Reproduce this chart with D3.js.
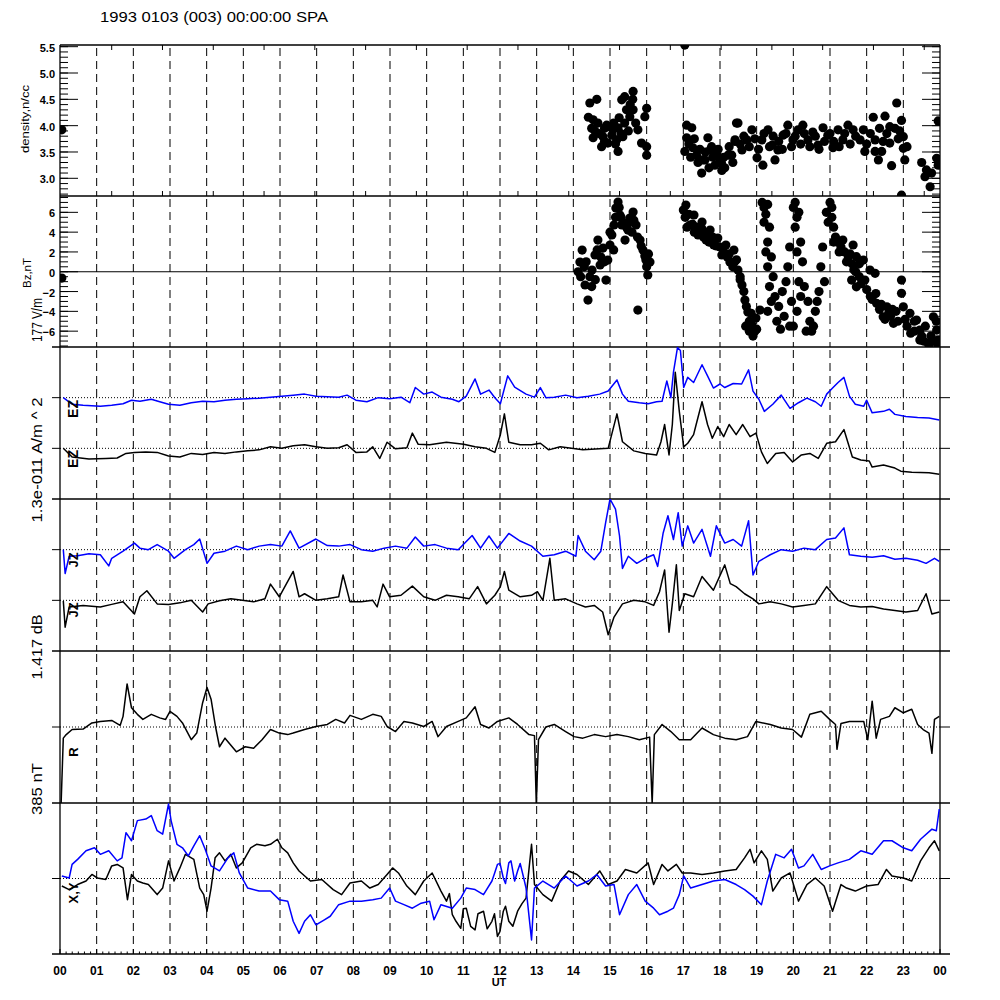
<!DOCTYPE html>
<html><head><meta charset="utf-8">
<script src="https://cdn.jsdelivr.net/npm/d3@7/dist/d3.min.js"></script>
<style>body{margin:0;background:#fff}svg{display:block}</style>
</head><body>
<svg id="c" width="1000" height="1000"></svg>
<script>
// ---------------- DATA ----------------
const titleText = "1993 0103 (003) 00:00:00 SPA";
const hourLabels = ["00","01","02","03","04","05","06","07","08","09","10","11","12","13","14","15","16","17","18","19","20","21","22","23","00"];
const densityTicks = [3.0,3.5,4.0,4.5,5.0,5.5];
const bzTicks = [-6,-4,-2,0,2,4,6];
const panelScaleLabels = ["177 V/m","1.3e-011 A/m ^ 2","1.417 dB","385 nT"];

// density [hour, n/cc]
const densityPts = [[0.05,3.92],
[14.45,4.43],[14.64,4.50],[14.41,4.16],[14.54,4.11],[14.67,4.05],[14.91,4.01],[15.0,3.98],[14.59,3.90],[14.54,3.77],[14.81,3.79],[14.77,3.60],[14.94,3.67],[15.08,3.92],[15.22,3.96],[15.32,4.49],[15.63,4.65],[15.62,4.50],[15.45,4.30],[15.63,4.30],[15.54,4.17],[15.76,3.92],[15.35,3.79],[15.22,3.51],[15.86,3.67],[16.0,3.60],[16.0,3.44],[16.0,4.33],[15.95,4.17],[15.18,3.73],[15.05,3.82],
[14.5,3.95],[14.7,3.85],[14.85,3.95],[15.1,4.05],[15.25,4.15],[15.4,4.05],[15.5,3.90],[15.7,4.05],[15.3,3.85],[14.85,3.70],[15.15,3.65],[15.55,4.40],[15.4,4.55],
[17.04,5.53],[17.09,4.01],[17.23,3.96],[17.09,3.77],[17.04,3.51],[17.26,3.58],[17.36,3.44],[17.53,3.35],[17.5,3.10],[17.67,3.77],[17.77,3.60],[17.91,3.48],[18.04,3.29],[18.13,3.20],[18.32,3.44],[18.45,4.05],[18.41,3.70],
[17.59,3.35],[17.73,3.54],[17.86,3.25],[18.0,3.35],[18.22,3.44],[18.41,3.73],[18.49,4.05],
[17.15,3.65],[17.3,3.75],[17.45,3.55],[17.6,3.50],[17.8,3.40],[17.95,3.55],[18.1,3.40],[18.25,3.60],[18.35,3.30],[17.2,3.40],[17.4,3.30],[17.7,3.20],[18.05,3.15],
[18.6,3.54],[18.73,3.73],[18.87,3.92],[19.01,3.39],[19.14,3.73],[19.31,3.92],[19.42,3.63],[19.58,3.54],[19.72,3.82],[19.85,4.01],[19.99,3.73],[20.13,3.92],[19.17,3.25],[19.5,3.35],
[18.55,3.65],[18.65,3.80],[18.8,3.60],[18.95,3.75],[19.05,3.55],[19.2,3.85],[19.35,3.60],[19.45,3.80],[19.6,3.70],[19.7,3.55],[19.8,3.85],[19.95,3.60],[20.05,3.80],[20.2,3.65],[20.3,3.85],[20.45,3.60],[20.6,3.80],[20.7,3.55],[20.85,3.70],[21.0,3.85],[21.1,3.70],[21.25,3.60],[21.4,3.85],[21.55,3.65],[21.7,3.80],
[20.26,4.01],[20.4,3.73],[20.53,3.88],[20.67,3.63],[20.81,3.96],[20.94,3.82],[21.08,3.58],[21.22,3.92],[21.35,3.73],[21.49,4.01],
[22.0,3.65],[22.1,3.85],[22.35,3.95],[22.45,3.70],[22.55,3.85],[22.9,3.90],[23.1,3.60],
[22.82,4.43],[22.18,4.16],[22.5,4.18],[22.63,3.98],[22.95,4.10],[22.77,3.95],[23.0,3.79],[22.86,3.75],[21.63,3.92],[21.91,3.92],[21.82,3.73],[22.23,3.73],[21.95,3.51],[22.23,3.51],[22.41,3.51],[22.63,3.67],[23.0,3.57],[23.04,3.35],[22.32,3.35],[22.68,3.24],[23.95,4.09],[23.5,3.30],[23.63,3.16],[23.77,3.10],[23.59,3.03],[23.73,2.84],[23.91,3.38],[23.95,3.25],[22.95,2.68]];

// Bz [hour, nT]
const bzPts = [[0.05,-0.64],
[14.13,0.0],[14.18,0.98],[14.24,2.19],[14.32,-1.34],[14.4,-2.86],[14.51,0.17],[14.59,1.69],[14.67,3.2],[14.73,0.68],[14.81,2.39],[14.89,-0.84],[14.94,1.18],[15.0,2.7],[15.05,3.71],[15.11,4.72],[15.16,6.43],[15.22,7.04],[15.27,5.73],[15.32,4.72],[15.41,3.2],[15.49,4.21],[15.54,5.42],[15.63,6.03],[15.71,4.72],[15.82,3.2],[15.9,2.19],[15.98,1.18],[16.03,-0.33],[16.09,0.98],[15.76,-3.87],[14.45,-0.5],[14.3,0.5],[14.6,-0.8],[14.75,1.5],[15.1,2.2],[15.35,5.0],[15.6,4.0],[16.05,1.8],
[14.2,-0.5],[14.35,1.0],[14.5,-1.5],[14.65,2.2],[14.85,1.0],[15.0,4.0],[15.15,5.5],[15.25,6.5],[15.3,5.5],[15.45,4.5],[15.55,5.0],[15.65,5.2],[15.75,3.5],[15.85,2.6],[15.95,1.6],[16.0,0.5],
[17.0,6.23],[17.07,6.74],[17.18,4.72],[17.29,5.73],[17.4,3.71],[17.51,5.02],[17.62,3.2],[17.73,4.21],[17.83,2.7],[17.94,3.4],[18.05,1.69],[18.16,2.7],[18.27,0.98],[18.38,2.19],[18.49,0.17],[18.6,-1.34],[18.68,-2.86],[18.76,-4.07],[18.87,-5.39],[18.98,-4.68],[19.09,-3.87],
[17.1,4.5],[17.3,4.0],[17.5,4.4],[17.7,3.0],[18.0,2.5],[18.2,1.5],[18.4,1.0],[18.55,-0.5],[18.7,-5.5],[18.8,-6.0],[18.9,-6.5],[19.0,-5.8],
[17.05,5.5],[17.15,5.8],[17.25,4.8],[17.35,4.5],[17.45,4.2],[17.55,3.5],[17.65,3.8],[17.8,3.5],[17.9,2.6],[18.1,2.0],[18.25,1.8],[18.35,0.5],[18.45,1.2],[18.55,-0.8],[18.65,-2.0],[18.72,-3.5],[18.8,-5.0],[18.85,-4.2],[18.95,-6.0],
[19.15,7.0],[19.2,6.5],[19.25,5.8],[19.3,6.8],[19.35,4.5],[19.3,3.0],[19.4,1.5],[19.45,-0.5],
[19.2,5.0],[19.25,2.0],[19.3,0.5],[19.35,-1.5],[19.4,-3.0],[19.3,-4.0],[19.65,-5.8],[19.9,-5.5],
[19.5,-2.5],[19.6,-3.5],[19.7,-2.0],[19.75,-4.5],[19.55,-5.0],[19.8,-1.0],[19.85,0.5],[19.9,2.5],[19.95,-3.0],[20.0,-5.5],
[20.0,6.5],[20.05,7.0],[20.1,5.5],[20.15,6.0],[20.2,3.0],[20.25,1.0],
[20.05,4.5],[20.1,2.0],[20.15,-1.0],[20.2,-2.5],[20.1,-4.0],[20.35,-6.0],[20.55,-5.5],[20.65,-3.0],[20.85,-1.0],
[20.3,-1.5],[20.4,-3.0],[20.45,-5.0],[20.5,-6.0],[20.6,-4.0],[20.7,-2.0],[20.75,0.5],[20.8,2.5],
[20.9,6.0],[20.95,5.0],[21.0,7.0],[21.05,6.5],[21.1,4.5],[21.15,3.5],[21.2,3.0],[21.3,2.5],[21.4,2.0],[21.5,1.5],[21.6,0.8],[21.7,0.0],[21.8,-0.5],
[21.05,5.5],[21.1,3.0],[21.25,2.0],[21.35,3.2],[21.45,1.0],[21.55,1.8],[21.65,0.2],[21.8,0.8],[21.85,-1.2],[22.0,-1.8],[22.15,-2.8],[22.25,-2.2],[22.4,-3.3],[22.5,-4.8],[22.65,-4.5],[22.7,-3.8],[22.85,-5.0],[23.05,-4.8],[23.2,-6.2],[23.3,-5.0],[23.5,-6.5],[23.6,-5.5],[23.7,-7.4],[23.85,-7.0],[23.95,-7.4],[23.9,-5.0],
[21.63,2.7],[21.72,1.52],[21.91,1.18],[22.09,0.17],[21.95,-0.84],[22.23,-0.16],[21.59,-0.84],[21.72,-1.52],[22.95,-0.84],[22.95,-2.18],[22.27,-3.19],[22.55,-3.54],[22.45,-4.55],[22.73,-5.21],[23.0,-3.54],[23.18,-4.2],[23.36,-4.88],[23.45,-5.89],[23.45,-6.9],[23.68,-7.23],[23.82,-4.55],[23.91,-5.89],[23.95,-6.9],
[22.1,-2.5],[22.35,-3.8],[22.6,-4.2],[22.8,-4.0],[23.1,-5.5],[23.3,-6.0],[23.55,-7.0],[23.75,-6.5]];

// Traces: [hour, deviation from own zero line, in units of 1/3 panel height]
const ezBlue = [[0.09,0],[0.33,-0.13],[0.63,-0.15],[1.10,-0.17],[1.41,-0.15],[1.72,-0.12],[1.95,-0.05],[2.18,-0.07],[2.49,-0.03],[2.72,-0.08],[2.96,-0.13],[3.27,-0.15],[3.58,-0.10],[3.89,-0.07],[4.20,-0.08],[4.50,-0.05],[4.81,-0.03],[5.12,-0.02],[5.43,-0.01],[5.74,0.01],[6.05,0.03],[6.36,0.05],[6.67,0.07],[6.98,0.03],[7.29,0.02],[7.60,0.01],[7.83,0.05],[8.07,-0.05],[8.37,-0.08],[8.68,0],[8.99,-0.02],[9.30,0.01],[9.54,-0.10],[9.69,0.20],[9.92,0.07],[10.15,0.11],[10.39,0.01],[10.70,-0.03],[10.88,-0.08],[11.08,0.03],[11.32,0.37],[11.47,0.07],[11.70,0.15],[11.86,0],[12.01,-0.12],[12.21,0.43],[12.40,0.21],[12.71,0.07],[12.94,0.01],[13.10,0.20],[13.25,0],[13.48,0.01],[13.79,0.05],[14.10,0],[14.41,0.03],[14.72,0.07],[14.95,0.13],[15.19,0.35],[15.34,0.07],[15.50,-0.07],[15.80,-0.10],[16.04,-0.12],[16.27,-0.08],[16.42,-0.07],[16.55,0.33],[16.66,0],[16.73,0.50],[16.84,0.99],[16.92,0.93],[17.01,0.20],[17.12,0.40],[17.28,0.30],[17.51,0.65],[17.66,0.43],[17.82,0.19],[18.00,0.27],[18.13,0.20],[18.36,0.28],[18.59,0.27],[18.78,0.55],[18.90,0.13],[19.06,-0.03],[19.21,-0.27],[19.44,-0.13],[19.67,0.05],[19.91,-0.21],[20.14,-0.10],[20.37,-0.01],[20.60,-0.08],[20.76,-0.17],[20.91,0.07],[21.07,0.19],[21.22,0.30],[21.38,0.40],[21.53,0.03],[21.69,-0.13],[21.92,-0.17],[22.00,-0.05],[22.15,-0.30],[22.46,-0.27],[22.62,-0.23],[22.77,-0.33],[23.07,-0.37],[23.39,-0.39],[23.70,-0.40],[23.98,-0.44]];

const ezBlack = [[0.09,0],[0.33,-0.17],[0.79,-0.21],[1.25,-0.20],[1.56,-0.19],[1.80,-0.10],[2.03,-0.08],[2.34,-0.07],[2.65,-0.08],[2.96,-0.15],[3.27,-0.17],[3.58,-0.10],[3.89,-0.12],[4.20,-0.08],[4.50,-0.10],[4.81,-0.07],[5.12,-0.05],[5.43,-0.03],[5.74,0.03],[6.05,0],[6.36,0.05],[6.67,0.07],[6.98,0.03],[7.29,0],[7.60,0.01],[7.83,0.07],[8.07,-0.08],[8.37,-0.07],[8.53,0.03],[8.72,-0.20],[8.92,0.12],[9.15,-0.01],[9.46,0.01],[9.61,0.30],[9.77,0.08],[10.08,0.07],[10.54,0.12],[11.01,0.08],[11.32,0.03],[11.63,0],[11.86,-0.08],[12.01,0.27],[12.12,0.68],[12.24,0.12],[12.55,0.07],[12.86,0.07],[13.10,0.10],[13.33,-0.03],[13.64,0.03],[13.95,0],[14.26,-0.03],[14.72,-0.01],[14.95,0],[15.19,0.68],[15.34,0.13],[15.65,-0.05],[15.96,-0.10],[16.27,-0.13],[16.39,0.13],[16.49,0.47],[16.61,-0.13],[16.70,0.47],[16.78,1.50],[16.89,0.73],[17.01,0.03],[17.12,0.10],[17.28,0.27],[17.35,0.47],[17.51,0.92],[17.66,0.47],[17.79,0.20],[17.94,0.43],[18.10,0.23],[18.25,0.47],[18.44,0.27],[18.62,0.47],[18.82,0.23],[18.98,0.30],[19.13,-0.07],[19.29,-0.30],[19.52,-0.10],[19.75,-0.08],[19.98,-0.27],[20.22,-0.13],[20.45,-0.10],[20.68,-0.20],[20.91,0.10],[21.15,0.13],[21.38,0.37],[21.61,-0.17],[21.84,-0.23],[22.07,-0.25],[22.15,-0.37],[22.46,-0.33],[22.77,-0.39],[22.93,-0.45],[23.23,-0.47],[23.70,-0.48],[23.98,-0.51]];

const jBlue = [[0.09,0],[0.14,-0.47],[0.25,-0.13],[0.48,-0.12],[0.79,-0.08],[1.10,-0.10],[1.33,-0.32],[1.41,-0.17],[1.72,-0.03],[2.03,0.13],[2.18,0.03],[2.41,0],[2.65,0.10],[2.96,-0.03],[3.11,-0.17],[3.42,0],[3.65,0.10],[3.81,0.21],[4.01,-0.27],[4.20,-0.07],[4.50,-0.03],[4.81,0.07],[5.12,0],[5.43,0.07],[5.74,0.10],[6.05,0.07],[6.28,0.37],[6.52,0.03],[6.98,0.21],[7.29,0.08],[7.60,0.07],[7.91,0.10],[8.22,0],[8.53,-0.03],[8.84,0.03],[9.15,0.07],[9.46,0.03],[9.69,0.25],[9.92,0.07],[10.23,0.10],[10.54,0.03],[10.86,0],[11.24,0.28],[11.47,0.03],[11.70,0.27],[11.93,0.03],[12.24,0.32],[12.55,0.17],[12.86,0.07],[13.17,-0.13],[13.48,-0.10],[13.79,-0.03],[14.07,-0.13],[14.13,0.28],[14.33,-0.03],[14.57,-0.20],[14.75,-0.03],[14.88,0.53],[15.00,1.00],[15.15,0.80],[15.26,0.27],[15.34,-0.37],[15.50,-0.13],[15.73,-0.27],[15.96,-0.17],[16.19,-0.10],[16.30,-0.33],[16.45,0.33],[16.58,0.67],[16.73,0.20],[16.86,0.73],[16.97,0.07],[17.12,0.47],[17.28,0.13],[17.51,0.40],[17.74,-0.13],[17.90,0.47],[18.13,0.13],[18.36,0.20],[18.59,0.07],[18.78,0.57],[18.90,-0.50],[19.06,-0.23],[19.37,-0.10],[19.67,0],[19.98,-0.03],[20.29,0.03],[20.60,0],[20.91,0.20],[21.15,0.23],[21.38,0.43],[21.53,-0.10],[21.84,-0.13],[22.15,-0.15],[22.46,-0.12],[22.77,-0.19],[23.07,-0.17],[23.39,-0.21],[23.62,-0.27],[23.85,-0.17],[23.98,-0.23]];

const jBlack = [[0.09,-0.01],[0.14,-0.53],[0.25,-0.13],[0.63,-0.10],[1.10,-0.13],[1.41,-0.08],[1.72,-0.03],[2.03,-0.27],[2.18,0.07],[2.37,0.19],[2.65,-0.07],[2.96,-0.08],[3.27,-0.05],[3.58,0],[3.89,-0.23],[4.04,-0.07],[4.35,-0.01],[4.66,0.03],[4.97,0],[5.28,-0.03],[5.59,0.03],[5.74,0.32],[5.98,0.07],[6.36,0.57],[6.52,0.07],[6.67,0.13],[6.98,0],[7.29,0.03],[7.60,0.07],[7.72,0.50],[7.91,-0.03],[8.22,-0.03],[8.53,0],[8.65,-0.13],[8.81,0.32],[8.99,0.07],[9.30,0.10],[9.61,0.28],[9.92,0.07],[10.23,0],[10.54,0.10],[10.86,0.07],[11.16,0.03],[11.39,0.27],[11.63,-0.07],[11.86,0.10],[12.01,0.27],[12.12,0.57],[12.24,0.20],[12.55,0.07],[12.86,0.10],[13.02,0.17],[13.17,0],[13.36,0.83],[13.48,0],[13.79,0.03],[14.10,-0.07],[14.33,-0.13],[14.57,-0.10],[14.80,-0.23],[14.95,-0.68],[15.11,-0.33],[15.34,-0.07],[15.65,0],[15.96,-0.03],[16.19,-0.10],[16.35,0.17],[16.49,0.60],[16.61,-0.63],[16.70,-0.07],[16.81,0.70],[16.89,-0.20],[17.04,0.13],[17.28,0.07],[17.51,0.47],[17.82,0.20],[18.13,0.70],[18.28,0.33],[18.44,0.27],[18.67,0.13],[18.90,0.03],[19.06,-0.07],[19.37,-0.03],[19.67,-0.07],[19.98,-0.13],[20.29,-0.10],[20.60,-0.07],[20.91,0.27],[21.22,0],[21.53,-0.10],[21.84,-0.13],[22.15,-0.12],[22.46,-0.17],[22.77,-0.20],[23.07,-0.23],[23.39,-0.20],[23.62,0.13],[23.78,-0.27],[23.98,-0.23]];

const rTrace = [[0.03,-1.52],[0.09,-0.22],[0.17,-0.15],[0.33,-0.05],[0.63,-0.04],[0.87,0.08],[1.10,0.11],[1.41,0.13],[1.64,0.03],[1.72,0.21],[1.83,0.85],[1.95,0.38],[2.11,0.25],[2.26,0.15],[2.49,0.25],[2.72,0.18],[2.88,0.15],[3.00,0.31],[3.19,0.21],[3.34,0.08],[3.58,-0.25],[3.73,-0.12],[3.89,0.48],[4.01,0.78],[4.12,0.55],[4.24,0.01],[4.35,-0.39],[4.50,-0.22],[4.81,-0.49],[5.05,-0.39],[5.28,-0.42],[5.51,-0.25],[5.74,-0.05],[5.98,-0.12],[6.21,-0.15],[6.36,-0.12],[6.67,-0.05],[6.98,0.01],[7.29,0.05],[7.52,0.15],[7.76,0.08],[7.91,0.23],[8.22,0.15],[8.53,0.25],[8.76,0.21],[8.92,0.01],[9.15,-0.09],[9.38,0.11],[9.61,0.08],[9.92,0.01],[10.15,0.11],[10.31,-0.19],[10.54,0.01],[10.86,0.11],[11.08,0.18],[11.32,0.40],[11.47,0.05],[11.70,-0.02],[11.93,0.11],[12.24,0.18],[12.48,0.05],[12.79,-0.15],[12.94,-0.17],[12.99,-1.53],[13.05,-0.25],[13.25,0],[13.48,0.05],[13.79,-0.09],[14.02,-0.19],[14.26,-0.22],[14.57,-0.15],[14.88,-0.19],[15.19,-0.15],[15.50,-0.19],[15.80,-0.25],[16.08,-0.20],[16.15,-1.51],[16.21,-0.15],[16.42,0.05],[16.66,-0.09],[16.89,-0.25],[17.20,-0.25],[17.51,-0.02],[17.82,-0.15],[18.13,-0.22],[18.44,-0.25],[18.75,-0.19],[18.98,0.11],[19.37,0.05],[19.67,-0.02],[19.98,-0.05],[20.22,-0.20],[20.45,0.25],[20.76,0.31],[20.99,0.15],[21.15,0.05],[21.19,-0.44],[21.30,0.07],[21.53,0.11],[21.92,0.11],[22.03,-0.25],[22.15,0.51],[22.26,-0.22],[22.38,0.15],[22.62,0.21],[22.77,0.38],[23.00,0.28],[23.23,0.35],[23.39,0.05],[23.54,-0.05],[23.70,-0.12],[23.78,-0.52],[23.85,0.15],[23.98,0.21]];

const xBlack = [[0.05,-0.15],[0.25,-0.22],[0.48,-0.12],[0.71,-0.05],[0.87,0.08],[1.02,0.01],[1.25,-0.02],[1.41,0.25],[1.56,0.28],[1.72,0.21],[1.84,-0.42],[1.95,0.08],[2.11,-0.05],[2.26,-0.09],[2.41,-0.12],[2.65,-0.32],[2.80,-0.19],[2.96,0.35],[3.11,-0.05],[3.27,0.21],[3.42,0.48],[3.65,0.38],[3.81,-0.19],[3.92,-0.32],[4.01,-0.65],[4.12,-0.19],[4.23,0.41],[4.35,0.51],[4.50,0.35],[4.66,0.48],[4.81,0.21],[4.97,0.31],[5.20,0.61],[5.36,0.68],[5.59,0.65],[5.74,0.68],[5.93,0.78],[6.05,0.61],[6.21,0.51],[6.36,0.31],[6.52,0.15],[6.83,-0.05],[7.14,-0.02],[7.45,-0.22],[7.68,-0.32],[7.91,-0.09],[8.22,-0.05],[8.45,-0.19],[8.68,-0.12],[8.92,0.08],[9.07,0.21],[9.23,0.11],[9.46,-0.15],[9.69,-0.32],[9.92,-0.05],[10.15,0.11],[10.39,-0.25],[10.54,-0.45],[10.62,-0.30],[10.70,-0.72],[10.80,-0.85],[10.93,-0.99],[11.00,-0.60],[11.08,-0.59],[11.20,-0.95],[11.32,-1.02],[11.40,-0.70],[11.55,-0.65],[11.65,-1.00],[11.78,-0.85],[11.85,-0.70],[11.93,-1.15],[12.00,-1.05],[12.09,-0.65],[12.15,-0.55],[12.24,-0.85],[12.35,-0.95],[12.48,-0.65],[12.60,-0.50],[12.71,-0.39],[12.86,0.68],[12.94,-0.12],[13.17,-0.32],[13.41,-0.45],[13.64,-0.05],[13.87,0.15],[14.10,0.08],[14.41,-0.12],[14.72,0.15],[14.95,-0.12],[15.19,-0.05],[15.42,0.18],[15.73,0.11],[16.04,0.31],[16.19,-0.12],[16.42,0.28],[16.58,0.15],[16.81,0.28],[16.97,0.11],[17.20,0.11],[17.51,0.08],[17.82,0.11],[18.13,0.15],[18.44,0.18],[18.67,0.41],[18.82,0.58],[18.93,0.31],[19.13,0.55],[19.29,0.38],[19.44,-0.25],[19.67,0.01],[19.91,0.11],[20.14,-0.45],[20.37,-0.12],[20.60,0.01],[20.84,-0.15],[21.07,-0.65],[21.30,-0.12],[21.45,-0.19],[21.69,-0.25],[22.00,-0.15],[22.31,-0.12],[22.54,0.18],[22.69,0.05],[23.00,0.01],[23.23,-0.05],[23.47,0.35],[23.70,0.61],[23.85,0.75],[23.98,0.55]];

const yBlue = [[0.05,0.05],[0.25,0.01],[0.33,0.28],[0.48,0.38],[0.71,0.55],[0.94,0.61],[1.10,0.48],[1.33,0.55],[1.56,0.35],[1.69,0.41],[1.80,0.91],[1.95,0.75],[2.11,1.15],[2.34,1.18],[2.49,1.25],[2.65,0.95],[2.80,0.88],[2.96,1.48],[3.03,1.15],[3.19,0.68],[3.34,0.61],[3.50,0.45],[3.65,0.65],[3.81,0.85],[3.96,0.58],[4.12,0.25],[4.35,0.15],[4.58,0.41],[4.74,0.51],[4.89,0.11],[5.12,-0.19],[5.43,-0.25],[5.74,-0.25],[5.98,-0.42],[6.21,-0.45],[6.36,-0.85],[6.52,-1.09],[6.67,-0.85],[6.83,-0.72],[6.98,-0.92],[7.21,-0.82],[7.37,-0.75],[7.60,-0.52],[7.91,-0.45],[8.22,-0.45],[8.53,-0.42],[8.76,-0.39],[8.99,-0.19],[9.15,-0.45],[9.38,-0.52],[9.61,-0.59],[9.85,-0.49],[10.08,-0.45],[10.20,-0.82],[10.39,-0.52],[10.70,-0.59],[10.93,-0.39],[11.08,-0.19],[11.32,-0.22],[11.55,-0.32],[11.78,-0.05],[11.85,0.10],[11.93,0.28],[12.00,0.30],[12.09,0.01],[12.15,-0.10],[12.24,0.31],[12.30,0.35],[12.40,-0.05],[12.48,0.15],[12.55,0.30],[12.65,0.00],[12.71,-0.19],[12.86,-1.22],[12.94,-0.19],[13.17,-0.05],[13.48,-0.19],[13.79,0.05],[14.10,-0.15],[14.41,-0.05],[14.64,0.08],[14.88,-0.15],[15.11,-0.12],[15.26,-0.72],[15.50,-0.32],[15.73,-0.12],[15.96,-0.45],[16.19,-0.59],[16.35,-0.72],[16.58,-0.65],[16.73,-0.59],[16.89,-0.32],[17.01,0.05],[17.20,-0.19],[17.51,-0.12],[17.82,-0.05],[18.13,-0.02],[18.44,-0.12],[18.67,-0.22],[18.90,-0.35],[19.13,-0.52],[19.29,-0.05],[19.52,0.48],[19.75,0.41],[19.95,0.58],[20.14,0.21],[20.29,0.25],[20.53,0.48],[20.76,0.18],[20.99,0.25],[21.22,0.31],[21.53,0.38],[21.84,0.55],[22.15,0.48],[22.46,0.75],[22.69,0.75],[23.00,0.61],[23.23,0.55],[23.47,0.78],[23.78,0.98],[23.90,0.95],[23.98,1.38]];

// ---------------- DRAWING ----------------
const svg = d3.select("#c");
const BLUE = "#0000ff";
const FONT = "Liberation Sans, Arial, sans-serif";
const X0 = 60, X1 = 940;
const tops = [45, 196, 347, 499, 651, 803, 954];
const x = d3.scaleLinear().domain([0, 24]).range([X0, X1]);

const yDen = d3.scaleLinear().domain([2.664, 5.532]).range([tops[1], tops[0]]);
const yBz  = d3.scaleLinear().domain([-7.6, 7.65]).range([tops[2], tops[1]]);
const yE   = d3.scaleLinear().domain([0, 3]).range([tops[3], tops[2]]);
const yJ   = d3.scaleLinear().domain([0, 3]).range([tops[4], tops[3]]);
const yR   = d3.scaleLinear().domain([-1.5, 1.5]).range([tops[5], tops[4]]);
const yXY  = d3.scaleLinear().domain([-1.5, 1.5]).range([tops[6], tops[5]]);

const defs = svg.append("defs");
for (let i = 0; i < 6; i++) {
  defs.append("clipPath").attr("id", "cp" + i).append("rect")
    .attr("x", X0).attr("y", tops[i]).attr("width", X1 - X0).attr("height", tops[i + 1] - tops[i]);
}

// hour dashed lines
const hours = d3.range(1, 24);
for (let i = 0; i < 6; i++) {
  svg.append("g").selectAll("line").data(hours).join("line")
    .attr("x1", d => x(d)).attr("x2", d => x(d))
    .attr("y1", tops[i] + 3).attr("y2", tops[i + 1])
    .attr("stroke", "#000").attr("stroke-width", 1).attr("stroke-dasharray", "8,5");
}

// zero reference lines for panels 3-6
const zeroLines = [yE(2), yE(1), yJ(2), yJ(1), yR(0), yXY(0)];
const zg = svg.append("g");
zeroLines.forEach(yy => {
  zg.append("line").attr("x1", X0).attr("x2", X1).attr("y1", yy).attr("y2", yy)
    .attr("stroke", "#000").attr("stroke-width", 1).attr("stroke-dasharray", "1,2");
  zg.append("line").attr("x1", X0 - 8).attr("x2", X0).attr("y1", yy).attr("y2", yy).attr("stroke", "#000");
  zg.append("line").attr("x1", X1).attr("x2", X1 + 10).attr("y1", yy).attr("y2", yy).attr("stroke", "#000");
});

// Bz zero line
svg.append("line").attr("x1", X0).attr("x2", X1).attr("y1", yBz(0)).attr("y2", yBz(0))
  .attr("stroke", "#000").attr("stroke-width", 1.2);

// frames
const fg = svg.append("g").attr("stroke", "#000").attr("stroke-width", 1.3);
[0, 1].forEach(i => fg.append("line").attr("x1", X0).attr("x2", X1).attr("y1", tops[i]).attr("y2", tops[i]));
[2, 3, 4, 5, 6].forEach(i => fg.append("line").attr("x1", X0 - 8).attr("x2", X1 + 10).attr("y1", tops[i]).attr("y2", tops[i]));
fg.append("line").attr("x1", X0).attr("x2", X0).attr("y1", tops[0]).attr("y2", tops[6]);
fg.append("line").attr("x1", X1).attr("x2", X1).attr("y1", tops[0]).attr("y2", tops[6]);

// y ticks panel 1 & 2
function yTicks(scale, major, minor, fmt) {
  const g = svg.append("g").attr("stroke", "#000").attr("stroke-width", 1);
  minor.forEach(v => {
    const yy = scale(v);
    g.append("line").attr("x1", X0).attr("x2", X0 + 8).attr("y1", yy).attr("y2", yy);
    g.append("line").attr("x1", X1 - 8).attr("x2", X1).attr("y1", yy).attr("y2", yy);
  });
  major.forEach(v => {
    const yy = scale(v);
    g.append("line").attr("x1", X0).attr("x2", X0 + 18).attr("y1", yy).attr("y2", yy);
    g.append("line").attr("x1", X1 - 18).attr("x2", X1).attr("y1", yy).attr("y2", yy);
  });
  svg.append("g").selectAll("text").data(major).join("text")
    .attr("x", 55).attr("y", d => scale(d) + 5)
    .attr("text-anchor", "end")
    .attr("font-family", FONT)
    .attr("font-size", 11).attr("font-weight", "bold")
    .text(fmt);
}
yTicks(yDen, densityTicks, d3.range(27, 56).map(v => v / 10), d3.format(".1f"));
yTicks(yBz, bzTicks, d3.range(-15, 16).map(v => v / 2), d3.format("d"));

// auxiliary ticks on top/bottom of panel 1
const auxTicks = d3.range(1.41, 24, 1.385);
const ag = svg.append("g").attr("stroke", "#000");
auxTicks.forEach(h => {
  ag.append("line").attr("x1", x(h)).attr("x2", x(h)).attr("y1", tops[0]).attr("y2", tops[0] + 5);
  ag.append("line").attr("x1", x(h)).attr("x2", x(h)).attr("y1", tops[1]).attr("y2", tops[1] - 5);
});

// scatter panels
svg.append("g").attr("clip-path", "url(#cp0)").selectAll("circle").data(densityPts).join("circle")
  .attr("cx", d => x(d[0])).attr("cy", d => yDen(d[1])).attr("r", 4.6).attr("fill", "#000");
svg.append("g").attr("clip-path", "url(#cp1)").selectAll("circle").data(bzPts).join("circle")
  .attr("cx", d => x(d[0])).attr("cy", d => yBz(d[1])).attr("r", 4.6).attr("fill", "#000");

// traces
function trace(data, yscale, offset, color, clip) {
  const sorted = d3.sort(data, d => d[0]);
  const line = d3.line().x(d => x(d[0])).y(d => yscale(offset + d[1]));
  svg.append("path").datum(sorted).attr("d", line)
    .attr("fill", "none").attr("stroke", color).attr("stroke-width", 1.5)
    .attr("stroke-linejoin", "round").attr("clip-path", "url(#" + clip + ")");
}
trace(ezBlue, yE, 2, BLUE, "cp2");
trace(ezBlack, yE, 1, "#000", "cp2");
trace(jBlue, yJ, 2, BLUE, "cp3");
trace(jBlack, yJ, 1, "#000", "cp3");
trace(rTrace, yR, 0, "#000", "cp4");
trace(xBlack, yXY, 0, "#000", "cp5");
trace(yBlue, yXY, 0, BLUE, "cp5");

// bottom axis
const bg = svg.append("g").attr("stroke", "#000");
d3.range(0, 24 * 6 + 1).forEach(k => {
  const h = k / 6;
  const len = (k % 6 === 0) ? 5 : 2.5;
  bg.append("line").attr("x1", x(h)).attr("x2", x(h)).attr("y1", tops[6]).attr("y2", tops[6] - len);
});
svg.append("g").selectAll("text").data(hourLabels).join("text")
  .attr("x", (d, i) => x(i)).attr("y", 975)
  .attr("text-anchor", "middle")
  .attr("font-family", FONT)
  .attr("font-size", 12).attr("font-weight", "bold")
  .text(d => d);
svg.append("text").attr("x", 499).attr("y", 986).attr("text-anchor", "middle")
  .attr("font-family", FONT).attr("font-size", 11).attr("font-weight", "bold")
  .text("UT");

// title
svg.append("text").attr("x", 100).attr("y", 22)
  .attr("font-family", FONT).attr("font-size", 15)
  .attr("textLength", 228).attr("lengthAdjust", "spacingAndGlyphs")
  .text(titleText);

// rotated labels
function vtext(txt, xb, yc, size, len, weight) {
  const t = svg.append("text").attr("transform", `translate(${xb},${yc}) rotate(-90)`)
    .attr("text-anchor", "middle")
    .attr("font-family", FONT)
    .attr("font-size", size).attr("font-weight", weight || "normal")
    .text(txt);
  if (len) t.attr("textLength", len).attr("lengthAdjust", "spacingAndGlyphs");
}
vtext("density,n/cc", 29, 119, 10.5, 68);
vtext("Bz,nT", 31, 273, 10.5, 30);
vtext(panelScaleLabels[0], 41.5, 320, 14, 44);
vtext(panelScaleLabels[1], 41.5, 460, 14, 125);
vtext(panelScaleLabels[2], 41.5, 647, 14, 65);
vtext(panelScaleLabels[3], 41.5, 789, 14, 52);

vtext("EZ", 78, 409, 14, 18, "bold");
vtext("EZ", 78, 459, 14, 18, "bold");
vtext("JZ", 78, 560, 13, 15, "bold");
vtext("JZ", 78, 610, 13, 15, "bold");
vtext("R", 78, 752, 13, null, "bold");
vtext("X,Y", 78, 893, 13, null, "bold");
</script>
</body></html>
